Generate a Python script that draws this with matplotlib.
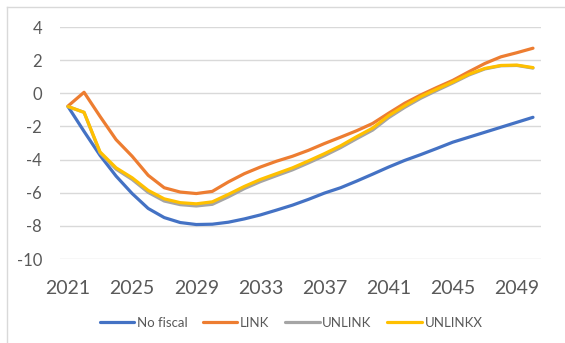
import matplotlib
matplotlib.use("Agg")
import matplotlib.pyplot as plt
from matplotlib.lines import Line2D

plt.rcParams['font.family'] = ['Lato', 'DejaVu Sans']
plt.rcParams['axes.unicode_minus'] = False

# Yearly path for each scenario, 2021-2050
years = list(range(2021, 2051))
no_fiscal = [-0.8, -2.3, -3.75, -5.0, -6.05, -6.95, -7.5, -7.8, -7.92, -7.9,
             -7.78, -7.58, -7.34, -7.05, -6.75, -6.4, -6.02, -5.7, -5.3, -4.88,
             -4.45, -4.05, -3.7, -3.33, -2.95, -2.65, -2.35, -2.05, -1.75, -1.45]
link = [-0.77, 0.06, -1.4, -2.8, -3.8, -4.95, -5.7, -5.96, -6.05, -5.92,
        -5.35, -4.85, -4.45, -4.1, -3.8, -3.44, -3.03, -2.65, -2.26, -1.82,
        -1.2, -0.6, -0.1, 0.35, 0.78, 1.3, 1.8, 2.2, 2.45, 2.72]
unlink = [-0.8, -1.15, -3.6, -4.58, -5.2, -5.98, -6.5, -6.72, -6.8, -6.7,
          -6.25, -5.75, -5.33, -4.97, -4.62, -4.2, -3.76, -3.28, -2.74, -2.22,
          -1.47, -0.85, -0.3, 0.17, 0.62, 1.1, 1.47, 1.66, 1.68, 1.52]
unlinkx = [-0.8, -1.15, -3.54, -4.5, -5.1, -5.86, -6.37, -6.6, -6.67, -6.55,
           -6.1, -5.62, -5.2, -4.85, -4.5, -4.08, -3.64, -3.17, -2.62, -2.1,
           -1.35, -0.75, -0.2, 0.25, 0.68, 1.15, 1.5, 1.68, 1.7, 1.55]

series = [("No fiscal", no_fiscal, "#4472C4"),
          ("LINK", link, "#ED7D31"),
          ("UNLINK", unlink, "#A5A5A5"),
          ("UNLINKX", unlinkx, "#FFC000")]

xticks = [2021, 2025, 2029, 2033, 2037, 2041, 2045, 2049]
yticks = [4, 2, 0, -2, -4, -6, -8, -10]

W, H = 565, 343
fig = plt.figure(figsize=(W / 100, H / 100), dpi=100)

# chart frame (top and left edges only show)
fig.add_artist(Line2D([7 / W, 7 / W], [0, 1 - 7 / H], color="#D9D9D9", lw=1))
fig.add_artist(Line2D([7 / W, 1], [1 - 7 / H, 1 - 7 / H], color="#D9D9D9", lw=1))

ax = fig.add_axes([60 / W, 1 - 259 / H, (541 - 60) / W, (259 - 27) / H])

for name, vals, col in series:
    ax.plot(years, vals, color=col, lw=2.3, label=name, solid_capstyle="round")

ax.set_xlim(2020.5, 2050.5)
ax.set_ylim(-10, 4)
ax.set_xticks(xticks)
ax.set_yticks(yticks)
ax.grid(axis="y", color="#D9D9D9", lw=1)
ax.set_axisbelow(True)
for s in ax.spines.values():
    s.set_visible(False)
ax.tick_params(axis="both", length=0, colors="#595959")
ax.tick_params(axis="x", labelsize=14, pad=15)
ax.tick_params(axis="y", labelsize=12, pad=13)

fig.legend(loc="center", bbox_to_anchor=(291 / W, 1 - 323 / H), ncol=4,
           frameon=False, fontsize=9.5, handlelength=2.6, handletextpad=0.2,
           columnspacing=1.2, labelcolor="#595959")

fig.savefig("out.png", dpi=100)
